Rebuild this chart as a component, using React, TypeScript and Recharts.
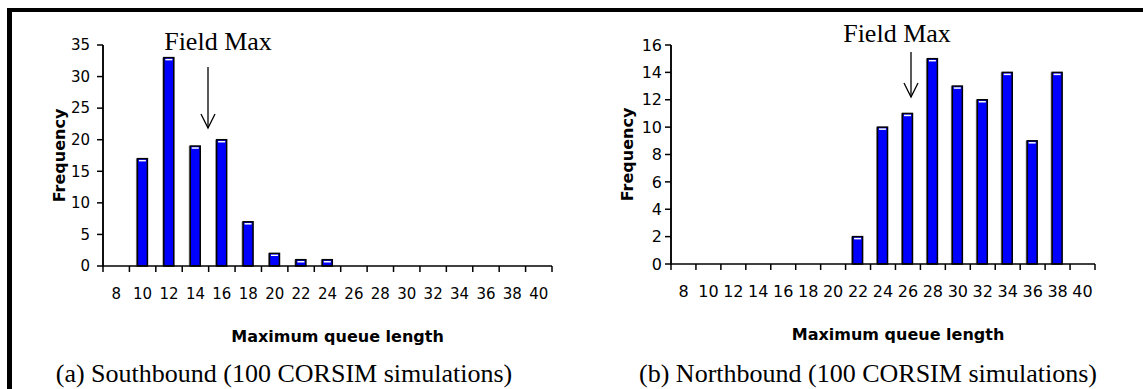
import React from 'react';
import { BarChart, Bar, XAxis, YAxis, Label } from 'recharts';

// queue length bins (category labels)
const queueLengths = [8, 10, 12, 14, 16, 18, 20, 22, 24, 26, 28, 30, 32, 34, 36, 38, 40];
// bin edges for the tick marks between categories
const binEdges = [7, 9, 11, 13, 15, 17, 19, 21, 23, 25, 27, 29, 31, 33, 35, 37, 39, 41];

const southFreq = [0, 17, 33, 19, 20, 7, 2, 1, 1, 0, 0, 0, 0, 0, 0, 0, 0];
const northFreq = [0, 0, 0, 0, 0, 0, 0, 2, 10, 11, 15, 13, 12, 14, 9, 14, 0];

const southTicks = [0, 5, 10, 15, 20, 25, 30, 35];
const northTicks = [0, 2, 4, 6, 8, 10, 12, 14, 16];

const southData = queueLengths.map((len, i) => ({ len, freq: southFreq[i] }));
const northData = queueLengths.map((len, i) => ({ len, freq: northFreq[i] }));

const sans = '"DejaVu Sans", Verdana, sans-serif';
const serif = '"Liberation Serif", "Times New Roman", serif';

const BarShape = (props: any) => {
  const { x, y, width, height } = props;
  if (!height || height <= 0) return <g />;
  return (
    <g>
      <rect x={x - 1.5} y={y} width={width} height={height} fill="#9a9a9a" />
      <rect x={x} y={y} width={width} height={height} fill="#0000ff" stroke="#000" strokeWidth={1.5} />
      {height > 4 && (
        <line x1={x + 1.5} x2={x + width - 1.5} y1={y + 2} y2={y + 2} stroke="#fff" strokeWidth={1.5} />
      )}
    </g>
  );
};

const EmptyTick = () => <g />;

const YTitle = ({ viewBox }: any) => {
  const cx = viewBox.x + 12;
  const cy = viewBox.y + viewBox.height / 2;
  return (
    <text
      x={cx}
      y={cy}
      transform={`rotate(-90, ${cx}, ${cy})`}
      textAnchor="middle"
      fontFamily={sans}
      fontWeight="bold"
      fontSize={16}
      fill="#000"
    >
      Frequency
    </text>
  );
};

const XTitle = ({ viewBox, shift }: any) => (
  <text
    x={viewBox.x + viewBox.width / 2 + shift}
    y={viewBox.y + 75}
    textAnchor="middle"
    fontFamily={sans}
    fontWeight="bold"
    fontSize={16}
    fill="#000"
  >
    Maximum queue length
  </text>
);

interface HistProps {
  data: { len: number; freq: number }[];
  yTicks: number[];
  yMax: number;
  width: number;
  margin: { top: number; right: number; bottom: number; left: number };
  fontSize: number;
  yTickMargin: number;
  titleShift: number;
}

const Histogram: React.FC<HistProps> = ({ data, yTicks, yMax, width, margin, fontSize, yTickMargin, titleShift }) => (
  <BarChart width={width} height={389} data={data} margin={margin}>
    <XAxis
      xAxisId="b"
      dataKey="len"
      type="number"
      domain={[7, 41]}
      allowDataOverflow
      ticks={queueLengths}
      interval={0}
      height={30}
      axisLine={false}
      tickLine={false}
      tickMargin={15}
      tick={{ fill: '#000', fontSize, fontFamily: sans }}
    >
      <Label content={<XTitle shift={titleShift} />} />
    </XAxis>
    <XAxis
      xAxisId="a"
      dataKey="len"
      type="number"
      domain={[7, 41]}
      allowDataOverflow
      ticks={binEdges}
      interval={0}
      tick={<EmptyTick />}
      height={1}
      stroke="#000"
      strokeWidth={1.5}
    />
    <YAxis
      yAxisId="y"
      width={50}
      domain={[0, yMax]}
      ticks={yTicks}
      interval={0}
      tickMargin={yTickMargin}
      stroke="#000"
      strokeWidth={1.5}
      tick={{ fill: '#000', fontSize, fontFamily: sans }}
    >
      <Label content={<YTitle />} />
    </YAxis>
    <Bar dataKey="freq" xAxisId="b" yAxisId="y" barSize={10} shape={<BarShape />} isAnimationActive={false} />
  </BarChart>
);

const Arrow = ({ x, y1, y2 }: { x: number; y1: number; y2: number }) => (
  <g stroke="#000" strokeWidth={1.3} fill="none">
    <line x1={x} x2={x} y1={y1} y2={y2} />
    <polyline points={`${x - 7},${y2 - 14} ${x},${y2} ${x + 7},${y2 - 14}`} />
  </g>
);

export default function App() {
  return (
    <div style={{ position: 'absolute', left: 0, top: 0, width: 1143, height: 389, overflow: 'hidden', background: '#fff' }}>
      <div style={{ position: 'absolute', left: 7, top: 8, width: 1200, height: 400, borderTop: '4px solid #000', borderLeft: '5px solid #000' }} />
      <div style={{ position: 'absolute', left: 0, top: 0 }}>
        <Histogram
          data={southData}
          yTicks={southTicks}
          yMax={35}
          width={580}
          margin={{ top: 45, right: 28, bottom: 92, left: 53 }}
          fontSize={15}
          yTickMargin={7}
          titleShift={10}
        />
      </div>
      <div style={{ position: 'absolute', left: 580, top: 0 }}>
        <Histogram
          data={northData}
          yTicks={northTicks}
          yMax={16}
          width={563}
          margin={{ top: 45, right: 48, bottom: 94, left: 41 }}
          fontSize={16}
          yTickMargin={3}
          titleShift={15}
        />
      </div>
      <svg width={1143} height={389} style={{ position: 'absolute', left: 0, top: 0, pointerEvents: 'none' }}>
        {/* vertical axis lines */}
        <line x1={103} x2={103} y1={45} y2={267} stroke="#000" strokeWidth={1.5} />
        <line x1={671} x2={671} y1={45} y2={265} stroke="#000" strokeWidth={1.5} />
        <text x={218} y={50} textAnchor="middle" fontFamily={serif} fontSize={26} fill="#000">Field Max</text>
        <Arrow x={208} y1={67} y2={128} />
        <text x={897} y={42} textAnchor="middle" fontFamily={serif} fontSize={26} fill="#000">Field Max</text>
        <Arrow x={911} y1={52} y2={97} />
        <text x={284} y={382} textAnchor="middle" fontFamily={serif} fontSize={26} fill="#000">
          (a) Southbound (100 CORSIM simulations)
        </text>
        <text x={868} y={382} textAnchor="middle" fontFamily={serif} fontSize={26} fill="#000">
          (b) Northbound (100 CORSIM simulations)
        </text>
      </svg>
    </div>
  );
}
